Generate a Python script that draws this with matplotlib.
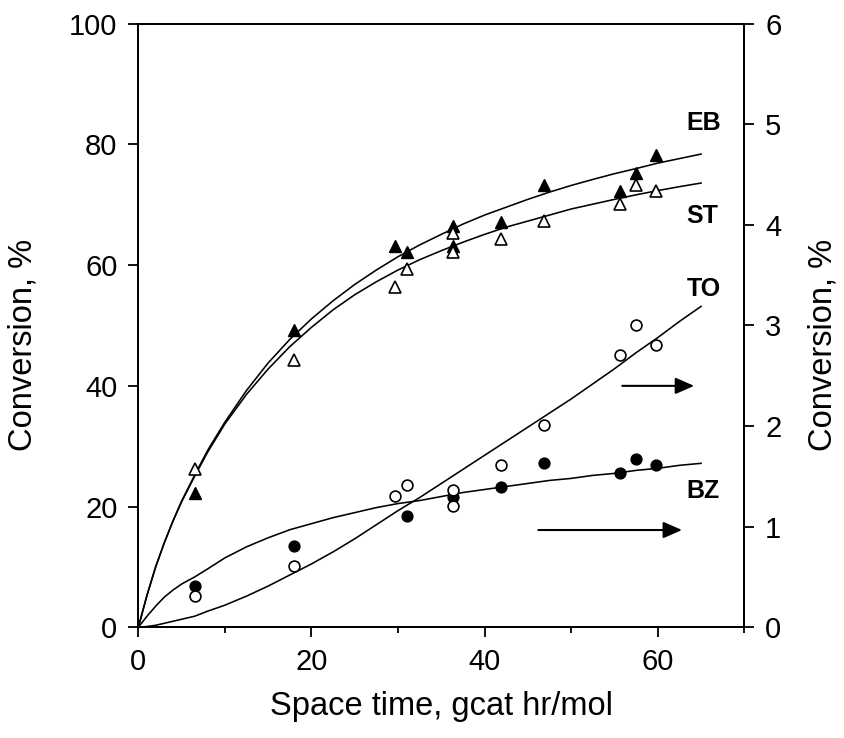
import matplotlib
matplotlib.use("Agg")
import matplotlib.pyplot as plt
from matplotlib.ticker import MultipleLocator

plt.rcParams['font.family'] = ['Liberation Sans', 'DejaVu Sans']

# ---- experimental points (space time in gcat hr/mol) ----
tau_eb = [6.5, 18.0, 29.6, 31.0, 36.3, 36.3, 41.9, 46.8, 55.6, 57.5, 59.8]
conv_eb = [22.3, 49.3, 63.2, 62.2, 66.5, 63.2, 67.2, 73.2, 72.3, 75.2, 78.2]

tau_st = [6.5, 18.0, 29.6, 31.0, 36.3, 36.3, 41.9, 46.8, 55.6, 57.5, 59.8]
conv_st = [26.3, 44.3, 56.3, 59.3, 65.3, 62.2, 64.3, 67.3, 70.2, 73.2, 72.3]

tau_to = [6.5, 18.0, 29.6, 31.0, 36.3, 36.3, 41.9, 46.8, 55.6, 57.5, 59.8]
conv_to = [0.31, 0.61, 1.31, 1.41, 1.36, 1.21, 1.61, 2.01, 2.71, 3.00, 2.81]

tau_bz = [6.5, 18.0, 31.0, 36.3, 41.9, 46.8, 55.6, 57.5, 59.8]
conv_bz = [0.41, 0.81, 1.11, 1.30, 1.39, 1.63, 1.53, 1.67, 1.61]

# ---- model curves ----
tau_fit = [0, 1, 2, 3, 4, 5, 6.5, 8, 10, 12.5, 15, 17.5, 20, 22.5, 25, 27.5,
           30, 32.5, 35, 37.5, 40, 42.5, 45, 47.5, 50, 52.5, 55, 57.5, 60,
           62.5, 65]
fit_eb = [0, 5.3, 10.0, 14.0, 17.6, 20.9, 25.2, 29.3, 34.0, 39.25, 43.8,
          47.7, 51.1, 54.1, 56.8, 59.2, 61.4, 63.35, 65.1, 66.8, 68.3, 69.6,
          70.9, 72.1, 73.2, 74.2, 75.15, 76.0, 76.9, 77.65, 78.4]
fit_st = [0, 5.3, 10.0, 14.0, 17.6, 20.8, 25.0, 29.0, 33.7, 38.6, 42.8,
          46.5, 49.7, 52.6, 55.1, 57.25, 59.2, 60.9, 62.4, 63.8, 65.1, 66.3,
          67.3, 68.3, 69.3, 70.1, 70.9, 71.65, 72.35, 73.0, 73.6]
fit_to = [0, 0.008, 0.02, 0.04, 0.06, 0.08, 0.11, 0.16, 0.22, 0.31, 0.41,
          0.52, 0.63, 0.75, 0.88, 1.02, 1.16, 1.29, 1.43, 1.57, 1.71, 1.85,
          1.99, 2.13, 2.27, 2.42, 2.57, 2.73, 2.88, 3.04, 3.19]
fit_bz = [0, 0.11, 0.21, 0.30, 0.37, 0.43, 0.50, 0.58, 0.69, 0.80, 0.89,
          0.97, 1.03, 1.09, 1.14, 1.19, 1.23, 1.26, 1.30, 1.34, 1.37, 1.40,
          1.43, 1.46, 1.48, 1.51, 1.53, 1.56, 1.58, 1.61, 1.63]

x_ticks = [0, 20, 40, 60]
left_ticks = [0, 20, 40, 60, 80, 100]
right_ticks = [0, 1, 2, 3, 4, 5, 6]

fig = plt.figure(figsize=(8.45, 7.38), dpi=100)
ax = fig.add_axes([0.1637, 0.15, 0.7172, 0.8179])
ax2 = ax.twinx()

line_kw = dict(color='black', lw=1.15, clip_on=False, zorder=2)
ax.plot(tau_fit, fit_eb, **line_kw)
ax.plot(tau_fit, fit_st, **line_kw)
ax2.plot(tau_fit, fit_to, **line_kw)
ax2.plot(tau_fit, fit_bz, **line_kw)

ax.plot(tau_eb, conv_eb, ls='none', marker='^', ms=8.3, mfc='black',
        mec='black', mew=1.0, zorder=3)
ax.plot(tau_st, conv_st, ls='none', marker='^', ms=8.3, mfc='white',
        mec='black', mew=1.2, zorder=3)
ax2.plot(tau_bz, conv_bz, ls='none', marker='o', ms=7.8, mfc='black',
         mec='black', mew=1.0, zorder=3)
ax2.plot(tau_to, conv_to, ls='none', marker='o', ms=7.8, mfc='white',
         mec='black', mew=1.2, zorder=4)

# axes ranges and ticks
ax.set_xlim(0, 70)
ax.set_ylim(0, 100)
ax2.set_ylim(0, 6)
ax.set_xticks(x_ticks)
ax.xaxis.set_minor_locator(MultipleLocator(10))
ax.set_yticks(left_ticks)
ax2.set_yticks(right_ticks)

for a in (ax, ax2):
    for sp in a.spines.values():
        sp.set_linewidth(1.4)
ax.tick_params(axis='both', which='major', direction='out', length=7,
               width=1.3, labelsize=21, pad=8)
ax.tick_params(axis='x', which='minor', direction='out', length=4,
               width=1.3)
ax.tick_params(axis='x', top=False)
ax2.tick_params(axis='y', which='major', direction='out', length=7,
                width=1.3, labelsize=21, pad=8)

ax.set_xlabel('Space time, gcat hr/mol', fontsize=23.5)
ax.xaxis.set_label_coords(0.5, -0.1453)
ax.xaxis.label.set_va('baseline')

ax.set_ylabel('Conversion, %', fontsize=23.5)
ax.yaxis.set_label_coords(-0.19, 0.468)
ax.yaxis.label.set_va('center')
ax2.set_ylabel('Conversion, %', fontsize=23.5)
ax2.yaxis.set_label_coords(1.13, 0.468)
ax2.yaxis.label.set_va('center')

# species labels
lab_kw = dict(fontsize=18, fontweight='bold', ha='left', va='baseline')
ax.text(63.35, 82.4, 'EB', **lab_kw)
ax.text(63.35, 67.0, 'ST', **lab_kw)
ax.text(63.35, 54.9, 'TO', **lab_kw)
ax.text(63.35, 21.5, 'BZ', **lab_kw)

# arrows pointing to the right-hand axis
arrow_kw = dict(arrowstyle='-|>,head_length=0.57,head_width=0.25',
                color='black', lw=1.5, mutation_scale=20,
                shrinkA=0, shrinkB=0)
ax2.annotate('', xy=(64.2, 2.40), xytext=(55.9, 2.40), arrowprops=arrow_kw)
ax2.annotate('', xy=(62.8, 0.967), xytext=(46.2, 0.967), arrowprops=arrow_kw)

fig.savefig('out.png', dpi=100)
